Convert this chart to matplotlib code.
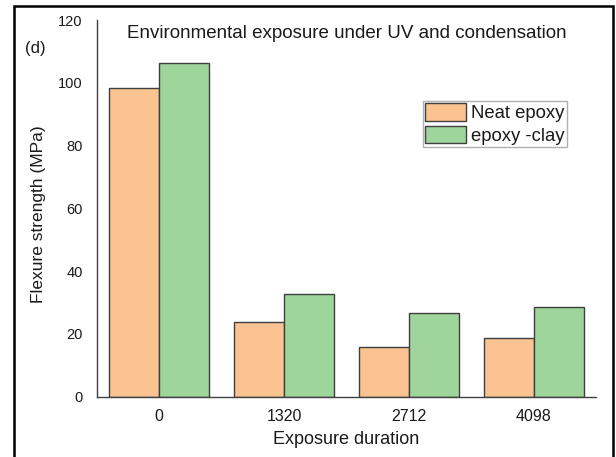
import matplotlib
matplotlib.use("Agg")
import matplotlib.pyplot as plt
import numpy as np
from matplotlib.patches import Rectangle

plt.rcParams['font.family'] = ['Liberation Sans', 'DejaVu Sans']

# exposure durations and flexure strength (MPa)
durations = ['0', '1320', '2712', '4098']
neat_epoxy = [98.5, 23.7, 15.7, 18.6]
epoxy_clay = [106.4, 32.7, 26.6, 28.7]
series_names = ['Neat epoxy', 'epoxy -clay']
yticks = [0, 20, 40, 60, 80, 100, 120]

orange = '#FAC391'
green = '#9DD59B'
edge = '#3f3f3f'
txt = '#1a1a1a'

fig = plt.figure(figsize=(6.16, 4.57), dpi=100)
ax = fig.add_axes([0.157, 0.132, 0.811, 0.824])

x = np.arange(len(durations))
w = 0.4
ax.bar(x - w / 2, neat_epoxy, w, color=orange, edgecolor=edge, linewidth=1.0,
       label=series_names[0])
ax.bar(x + w / 2, epoxy_clay, w, color=green, edgecolor=edge, linewidth=1.0,
       label=series_names[1])

ax.set_xlim(-0.5, len(durations) - 0.5)
ax.set_ylim(0, 120)
ax.set_yticks(yticks)
ax.set_xticks(x)
ax.set_xticklabels(durations)
ax.tick_params(axis='both', length=0, colors=txt)
ax.tick_params(axis='y', pad=10, labelsize=10.5)
ax.tick_params(axis='x', pad=9, labelsize=11.5)

for s in ['top', 'right']:
    ax.spines[s].set_visible(False)
for s in ['left', 'bottom']:
    ax.spines[s].set_color('#404040')
    ax.spines[s].set_linewidth(1.0)

ax.text(0.5, 0.965, 'Environmental exposure under UV and condensation',
        transform=ax.transAxes, ha='center', va='center', fontsize=13.5, color=txt)

fig.text(35 / 616, 1 - 48 / 457, '(d)', ha='center', va='center', fontsize=12, color=txt)
fig.text(39 / 616, 1 - 214 / 457, 'Flexure strength (MPa)', rotation=90,
         ha='center', va='center', fontsize=12.5, color=txt)
fig.text(346 / 616, 1 - 440 / 457, 'Exposure duration', ha='center', va='center',
         fontsize=13, color=txt)

leg = ax.legend(loc='upper left', bbox_to_anchor=(0.653, 0.785), fontsize=13.3,
                frameon=True, fancybox=False, edgecolor='#b0b0b0', framealpha=1,
                handlelength=2.2, handleheight=1.1, labelspacing=0.17,
                handletextpad=0.3, borderpad=0.12, borderaxespad=0)
leg.get_frame().set_linewidth(1.0)
for t in leg.get_texts():
    t.set_color(txt)

# outer black frame, open past the bottom edge
fig.patches.append(Rectangle((14 / 616, -0.05), (612.5 - 14) / 616, 1.05 - 6 / 457,
                             transform=fig.transFigure, fill=False,
                             edgecolor='black', linewidth=1.8))

fig.savefig('out.png', dpi=100)
